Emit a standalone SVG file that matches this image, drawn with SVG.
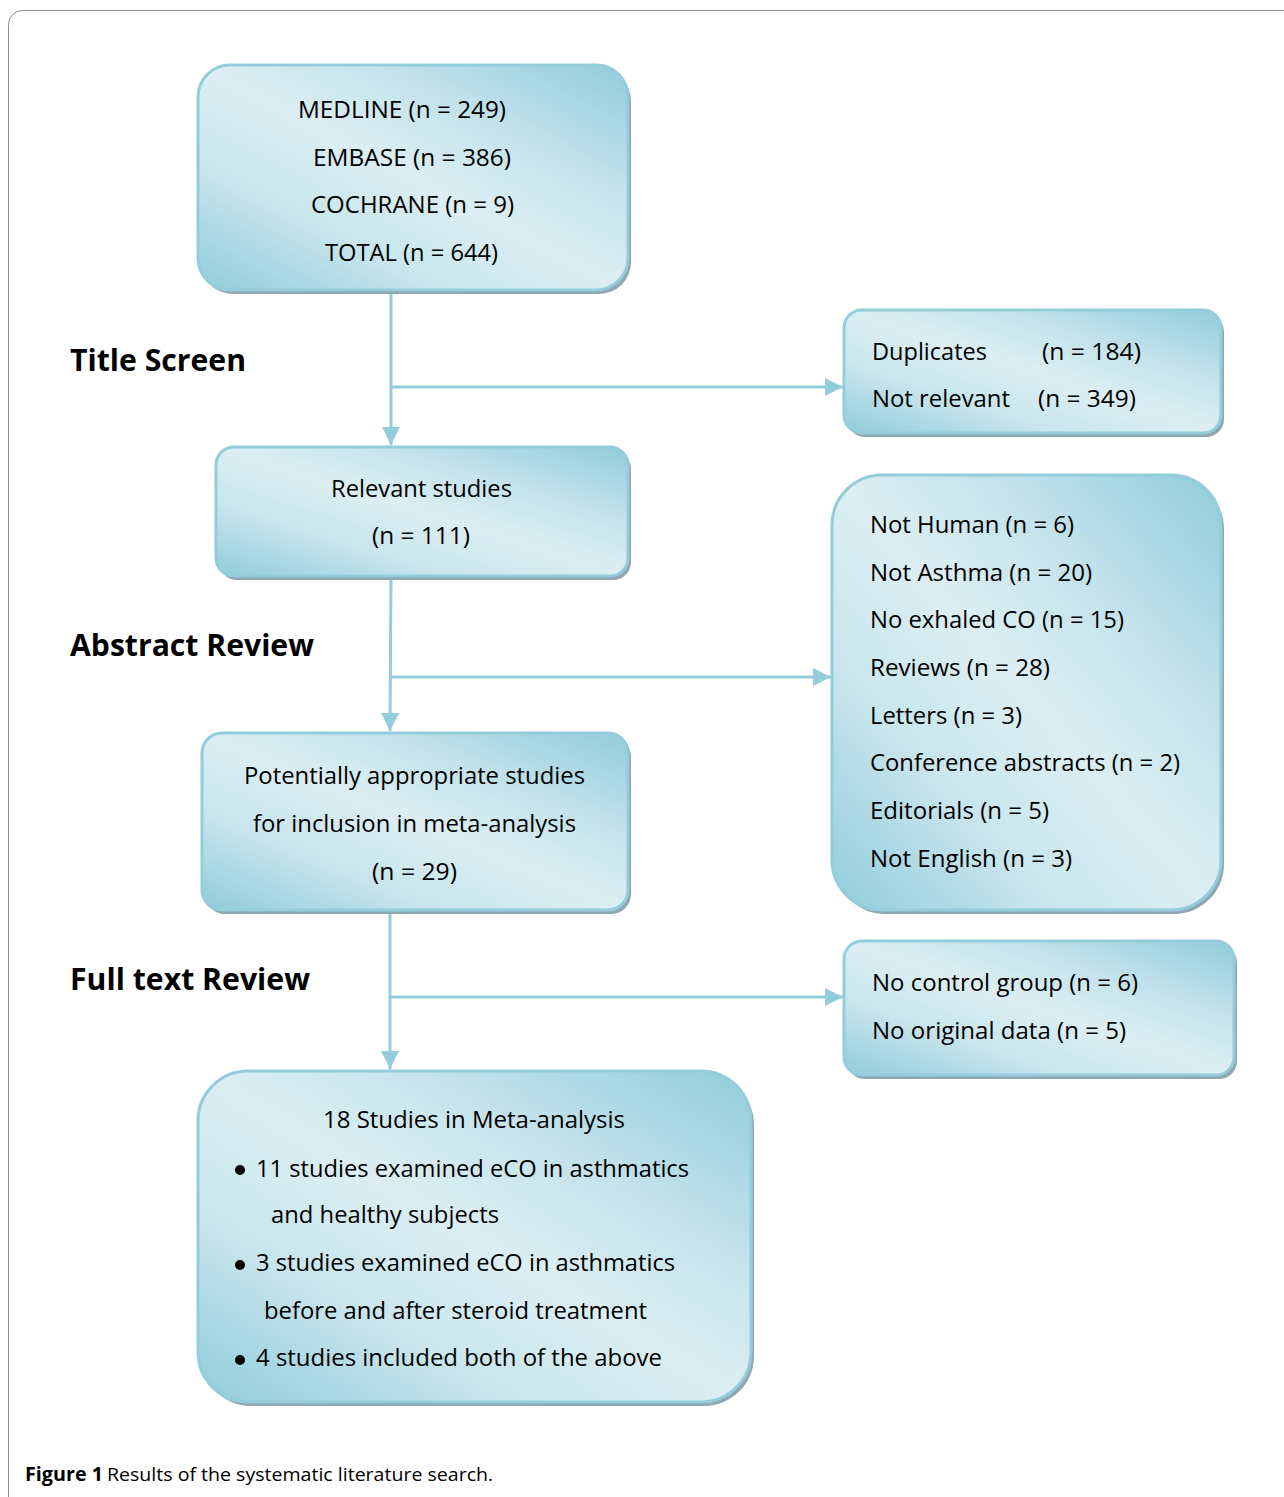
<svg xmlns="http://www.w3.org/2000/svg" width="1284" height="1497" viewBox="0 0 1284 1497">
<style>
.box{fill:url(#g);stroke:#93cddc;stroke-width:3}
.sh{fill:#8fa7b0}
.t{font-family:"Open Sans","Noto Sans",sans-serif;font-size:24px;fill:#000}
.h{font-family:"Open Sans","Noto Sans",sans-serif;font-size:30px;font-weight:bold;fill:#000}
.c{font-family:"Open Sans","Liberation Sans",sans-serif;font-size:19px;fill:#000}
.ln{stroke:#93cddc;stroke-width:3;fill:none}
</style>
<defs>
<linearGradient id="g" x1="1" y1="0" x2="0" y2="1">
<stop offset="0" stop-color="#90ccdb"/>
<stop offset="0.28" stop-color="#c2e2eb"/>
<stop offset="0.5" stop-color="#dceef4"/>
<stop offset="0.72" stop-color="#c8e5ed"/>
<stop offset="1" stop-color="#90ccdb"/>
</linearGradient>
<marker id="ah" viewBox="0 0 10 10" refX="10" refY="5" markerWidth="6" markerHeight="6" markerUnits="strokeWidth" orient="auto">
<path d="M0,0 L10,5 L0,10 Z" fill="#93cddc"/>
</marker>
</defs>
<rect x="8.5" y="10.5" width="1400" height="1600" rx="14" fill="none" stroke="#8c8c8c" stroke-width="1"/>

<g id="connectors">
<line class="ln" x1="391" y1="290" x2="391" y2="445" marker-end="url(#ah)"/>
<line class="ln" x1="391" y1="387" x2="843" y2="387" marker-end="url(#ah)"/>
<line class="ln" x1="391" y1="576" x2="390" y2="731" marker-end="url(#ah)"/>
<line class="ln" x1="391" y1="677" x2="831" y2="677" marker-end="url(#ah)"/>
<line class="ln" x1="390" y1="910" x2="390" y2="1069" marker-end="url(#ah)"/>
<line class="ln" x1="390" y1="997" x2="843" y2="997" marker-end="url(#ah)"/>
</g>

<g id="label-title">
<text class="h" x="70" y="371" textLength="176" lengthAdjust="spacingAndGlyphs">Title Screen</text>
</g>
<g id="label-abstract">
<text class="h" x="70" y="656" textLength="244" lengthAdjust="spacingAndGlyphs">Abstract Review</text>
</g>
<g id="label-fulltext">
<text class="h" x="70" y="990" textLength="240" lengthAdjust="spacingAndGlyphs">Full text Review</text>
</g>

<g id="n-sources">
<rect class="sh" x="201" y="69" width="430" height="225" rx="32"/>
<rect class="box" x="198" y="65" width="430" height="225" rx="32"/>
<text class="t" x="298" y="118" textLength="208" lengthAdjust="spacingAndGlyphs">MEDLINE (n = 249)</text>
<text class="t" x="313" y="166" textLength="198" lengthAdjust="spacingAndGlyphs">EMBASE (n = 386)</text>
<text class="t" x="311" y="213" textLength="203" lengthAdjust="spacingAndGlyphs">COCHRANE (n = 9)</text>
<text class="t" x="325" y="261" textLength="173" lengthAdjust="spacingAndGlyphs">TOTAL (n = 644)</text>
</g>

<g id="n-excluded1">
<rect class="sh" x="847" y="314" width="377" height="123" rx="18"/>
<rect class="box" x="844" y="310" width="377" height="123" rx="18"/>
<text class="t" x="872" y="360" textLength="115" lengthAdjust="spacingAndGlyphs">Duplicates</text>
<text class="t" x="1042" y="360" textLength="99" lengthAdjust="spacingAndGlyphs">(n = 184)</text>
<text class="t" x="872" y="407" textLength="138" lengthAdjust="spacingAndGlyphs">Not relevant</text>
<text class="t" x="1038" y="407" textLength="98" lengthAdjust="spacingAndGlyphs">(n = 349)</text>
</g>

<g id="n-relevant">
<rect class="sh" x="219" y="451" width="412" height="129" rx="18"/>
<rect class="box" x="216" y="447" width="412" height="129" rx="18"/>
<text class="t" x="331" y="497" textLength="181" lengthAdjust="spacingAndGlyphs">Relevant studies</text>
<text class="t" x="372" y="544" textLength="98" lengthAdjust="spacingAndGlyphs">(n = 111)</text>
</g>

<g id="n-excluded2">
<rect class="sh" x="835" y="479" width="389" height="435" rx="50"/>
<rect class="box" x="832" y="475" width="389" height="435" rx="50"/>
<text class="t" x="870" y="533" textLength="204" lengthAdjust="spacingAndGlyphs">Not Human (n = 6)</text>
<text class="t" x="870" y="581" textLength="222" lengthAdjust="spacingAndGlyphs">Not Asthma (n = 20)</text>
<text class="t" x="870" y="628" textLength="254" lengthAdjust="spacingAndGlyphs">No exhaled CO (n = 15)</text>
<text class="t" x="870" y="676" textLength="180" lengthAdjust="spacingAndGlyphs">Reviews (n = 28)</text>
<text class="t" x="870" y="724" textLength="152" lengthAdjust="spacingAndGlyphs">Letters (n = 3)</text>
<text class="t" x="870" y="771" textLength="310" lengthAdjust="spacingAndGlyphs">Conference abstracts (n = 2)</text>
<text class="t" x="870" y="819" textLength="179" lengthAdjust="spacingAndGlyphs">Editorials (n = 5)</text>
<text class="t" x="870" y="867" textLength="202" lengthAdjust="spacingAndGlyphs">Not English (n = 3)</text>
</g>

<g id="n-potential">
<rect class="sh" x="205" y="737" width="426" height="177" rx="20"/>
<rect class="box" x="202" y="733" width="426" height="177" rx="20"/>
<text class="t" x="244" y="784" textLength="341" lengthAdjust="spacingAndGlyphs">Potentially appropriate studies</text>
<text class="t" x="253" y="832" textLength="323" lengthAdjust="spacingAndGlyphs">for inclusion in meta-analysis</text>
<text class="t" x="372" y="880" textLength="85" lengthAdjust="spacingAndGlyphs">(n = 29)</text>
</g>

<g id="n-excluded3">
<rect class="sh" x="847" y="945" width="390" height="134" rx="18"/>
<rect class="box" x="844" y="941" width="390" height="134" rx="18"/>
<text class="t" x="872" y="991" textLength="266" lengthAdjust="spacingAndGlyphs">No control group (n = 6)</text>
<text class="t" x="872" y="1039" textLength="254" lengthAdjust="spacingAndGlyphs">No original data (n = 5)</text>
</g>

<g id="n-included">
<rect class="sh" x="201" y="1075" width="553" height="331" rx="50"/>
<rect class="box" x="198" y="1071" width="553" height="331" rx="50"/>
<text class="t" x="323" y="1128" textLength="302" lengthAdjust="spacingAndGlyphs">18 Studies in Meta-analysis</text>
<circle cx="240" cy="1170" r="5" fill="#000"/>
<text class="t" x="256" y="1177" textLength="433" lengthAdjust="spacingAndGlyphs">11 studies examined eCO in asthmatics</text>
<text class="t" x="271" y="1223" textLength="228" lengthAdjust="spacingAndGlyphs">and healthy subjects</text>
<circle cx="240" cy="1265" r="5" fill="#000"/>
<text class="t" x="256" y="1271" textLength="419" lengthAdjust="spacingAndGlyphs">3 studies examined eCO in asthmatics</text>
<text class="t" x="264" y="1319" textLength="383" lengthAdjust="spacingAndGlyphs">before and after steroid treatment</text>
<circle cx="240" cy="1360" r="5" fill="#000"/>
<text class="t" x="256" y="1366" textLength="406" lengthAdjust="spacingAndGlyphs">4 studies included both of the above</text>
</g>

<g id="caption">
<text class="c" x="25" y="1481"><tspan font-weight="bold" textLength="78" lengthAdjust="spacingAndGlyphs">Figure 1</tspan><tspan x="107" textLength="381" lengthAdjust="spacingAndGlyphs">Results of the systematic literature search</tspan><tspan x="488">.</tspan></text>
</g>
</svg>
